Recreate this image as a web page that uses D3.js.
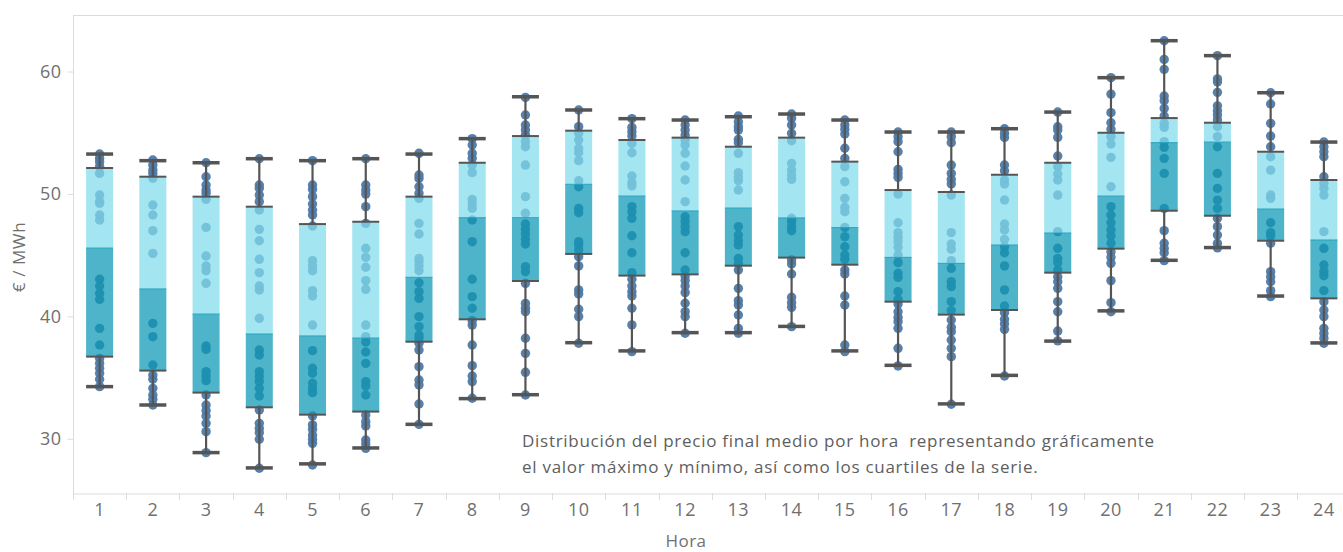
<!DOCTYPE html>
<meta charset="utf-8">
<style>
body { margin: 0; background: #fff; }
svg text { font-family: "Open Sans", "Lato", sans-serif; }
</style>
<script src="https://d3js.org/d3.v7.min.js"></script>
<div id="chart"></div>
<script>
// data
var horas = d3.range(1, 25).map(String);
var minimo = [34.26,32.76,28.87,27.62,27.95,29.25,31.18,33.28,33.60,37.85,37.18,38.67,38.67,39.18,37.18,36.00,32.85,35.18,37.98,40.45,44.58,45.62,41.66,37.83];
var maximo = [53.26,52.72,52.55,52.88,52.72,52.88,53.26,54.52,57.94,56.86,56.15,56.04,56.31,56.53,56.04,55.06,55.06,55.33,56.69,59.50,62.52,61.30,58.27,54.24];
var q1 = [36.71,35.57,33.77,32.57,31.97,32.22,37.93,39.76,42.89,45.10,43.33,43.43,44.14,44.80,44.22,41.20,40.14,40.52,43.57,45.53,48.63,48.22,46.18,41.47];
var mediana = [45.58,42.24,40.19,38.56,38.40,38.23,43.19,48.06,48.06,50.79,49.83,48.61,48.85,48.04,47.25,44.82,44.33,45.83,46.81,49.83,54.19,54.24,48.77,46.24];
var q3 = [52.12,51.41,49.78,48.96,47.54,47.73,49.78,52.55,54.73,55.17,54.41,54.60,53.86,54.60,52.64,50.32,50.16,51.57,52.55,55.00,56.20,55.82,53.45,51.14];

var puntos = [
  [53.26,52.91,52.64,52.23,51.68,49.91,49.37,49.23,48.28,47.87,43.03,42.48,41.88,41.39,39.02,37.66,36.57,36.16,35.76,35.35,34.86,34.26],
  [52.77,52.36,51.96,51.68,51.28,49.10,48.28,47.00,45.15,39.43,38.34,36.03,35.21,34.86,34.12,33.58,33.22,32.76],
  [52.55,51.41,50.73,50.32,50.05,49.56,47.27,44.93,44.11,43.73,42.70,37.58,37.30,35.48,35.13,34.75,33.58,32.76,32.30,31.86,31.26,30.58,28.87],
  [52.88,50.73,50.46,49.91,49.37,48.69,47.11,46.18,44.66,43.57,42.48,42.15,39.84,37.25,36.84,35.48,35.08,34.67,34.12,33.50,32.35,31.26,30.86,30.50,29.96,27.59],
  [52.72,50.73,50.38,49.78,49.18,48.69,48.28,47.38,44.55,44.11,43.73,42.10,41.66,39.29,37.20,35.76,35.35,34.53,34.12,33.77,31.86,31.13,30.77,30.31,29.96,29.63,27.86],
  [52.88,50.73,50.32,49.99,48.96,47.60,45.56,44.82,44.01,42.92,42.21,39.29,38.34,37.91,37.09,36.16,34.67,34.31,33.58,31.94,31.40,31.05,29.90,29.57,29.22],
  [53.32,51.55,51.27,50.59,50.05,49.64,47.60,46.73,44.74,44.47,44.11,43.73,42.75,42.02,41.47,39.98,39.16,38.48,38.21,37.80,37.25,35.89,34.80,34.40,32.84,31.18],
  [54.52,54.00,53.32,52.91,52.36,51.74,49.56,49.18,48.82,47.87,46.10,43.03,41.61,40.66,39.65,39.29,37.66,35.97,35.13,34.67,33.31],
  [57.89,56.45,55.63,55.22,54.81,54.27,53.86,52.36,49.78,48.42,47.54,47.11,46.73,46.29,45.91,44.06,43.65,42.70,41.06,40.66,40.38,38.21,36.98,35.43,33.58],
  [56.86,55.50,54.95,54.41,53.73,53.37,52.72,51.08,50.59,48.82,48.47,46.10,45.83,45.42,44.88,44.12,42.16,41.83,40.58,39.98,37.80],
  [56.15,55.44,55.09,54.73,54.13,53.37,51.47,50.92,50.65,48.96,48.55,48.01,46.59,45.20,43.57,43.03,42.48,42.02,41.67,40.66,39.30,37.12],
  [56.04,55.63,55.22,54.81,54.41,54.00,53.32,52.28,51.14,49.37,48.14,47.74,47.33,46.92,45.20,43.79,43.30,42.92,42.48,41.94,41.07,40.39,39.98,38.62],
  [56.37,55.90,55.50,55.22,54.46,54.19,53.32,51.74,51.36,51.08,50.32,47.33,46.65,46.18,45.83,44.74,44.33,43.79,42.29,41.28,40.93,40.11,39.02,38.62],
  [56.53,56.18,55.63,54.95,54.35,52.50,51.96,51.55,51.19,48.01,47.74,47.33,47.00,44.61,44.28,43.46,41.56,41.12,40.74,39.16],
  [56.04,55.63,55.28,54.90,53.73,52.91,52.23,51.00,49.64,48.91,48.55,47.27,46.51,45.69,45.01,44.66,43.79,43.46,41.66,40.93,37.66,37.12],
  [55.06,54.68,54.27,53.45,52.01,51.68,51.36,49.99,47.65,46.84,46.46,46.10,45.64,45.01,44.39,43.52,43.19,42.02,41.39,41.01,40.38,39.92,39.57,39.02,37.39,35.95],
  [55.06,54.68,54.19,52.36,51.68,51.19,50.81,49.91,46.84,45.91,45.48,44.55,43.92,42.84,42.43,41.20,40.47,39.70,39.11,38.75,38.07,37.39,36.71,32.82],
  [55.33,54.95,54.62,52.36,51.90,51.14,50.81,49.51,47.55,47.06,46.29,45.69,45.20,44.12,42.16,40.85,40.30,39.76,39.38,38.94,35.13],
  [56.69,55.49,55.22,54.62,53.10,52.23,51.63,51.14,49.91,46.92,45.56,44.74,44.39,43.79,43.24,42.83,42.29,41.20,40.38,38.80,38.00],
  [59.50,58.16,56.64,55.82,55.28,54.68,54.08,52.99,50.59,48.96,48.28,47.65,47.06,46.57,45.97,45.28,44.82,44.33,42.92,41.12,40.38],
  [62.52,60.99,60.18,58.00,57.62,56.99,56.37,55.77,55.44,54.27,53.81,52.91,51.68,48.82,47.00,45.97,45.56,45.20,44.55],
  [61.30,59.40,59.15,58.30,57.20,56.80,56.45,56.05,55.49,54.68,53.86,51.68,50.46,49.50,48.82,48.01,47.33,46.65,45.97,45.60],
  [58.27,57.35,55.77,54.73,53.86,53.04,51.95,49.91,49.64,47.65,46.84,46.56,45.97,43.65,43.24,42.83,42.10,41.61],
  [54.24,53.86,53.45,53.04,51.41,50.87,50.46,49.91,46.92,45.56,44.20,43.65,43.32,42.10,41.20,40.52,39.98,39.02,38.61,38.21,37.80]
];
var yTicks = [30, 40, 50, 60];
var nota = ["Distribución del precio final medio por hora\u00a0 representando gráficamente",
            "el valor máximo y mínimo, así como los cuartiles de la serie."];

var W = 1343, H = 552;
var mLeft = 73, mTop = 15, mBottom = 493, mRight = 1350.5;

var svg = d3.select("#chart").append("svg")
  .attr("width", W).attr("height", H);

var x = d3.scaleBand().domain(horas).range([mLeft, mRight]).padding(0);
var y = d3.scaleLinear().domain([25.57, 64.62]).range([mBottom, mTop]);
var bw = 27;

// frame
svg.append("line").attr("x1", mLeft).attr("x2", W).attr("y1", mTop + 0.5).attr("y2", mTop + 0.5)
  .attr("stroke", "#dcdcdc");
svg.append("line").attr("x1", mLeft + 0.5).attr("x2", mLeft + 0.5).attr("y1", mTop).attr("y2", mBottom)
  .attr("stroke", "#dcdcdc");

// y axis
var gy = svg.append("g").attr("transform", "translate(" + (mLeft + 0.5) + ",0)")
  .call(d3.axisLeft(y).tickValues(yTicks).tickSize(6).tickPadding(6));
gy.select(".domain").remove();
gy.selectAll(".tick line").attr("stroke", "#dcdcdc");
gy.selectAll(".tick text").attr("fill", "#707070").style("font-size", "18px")
  .style("letter-spacing", "0.5px");

// x axis
var gx = svg.append("g").attr("transform", "translate(0," + (mBottom + 0.5) + ")")
  .call(d3.axisBottom(x).tickSize(0).tickPadding(10));
gx.select(".domain").attr("stroke", "#dcdcdc");
gx.selectAll(".tick text").attr("fill", "#707070").style("font-size", "18px")
  .style("letter-spacing", "0.5px");
svg.append("g").selectAll("line").data(horas).join("line")
  .attr("x1", function(d) { return Math.round(x(d)) + 0.5; })
  .attr("x2", function(d) { return Math.round(x(d)) + 0.5; })
  .attr("y1", mBottom).attr("y2", mBottom + 7)
  .attr("stroke", "#dcdcdc");

// axis titles
svg.append("text").attr("x", 686).attr("y", 547).attr("text-anchor", "middle")
  .attr("fill", "#707070").style("font-size", "17px").style("letter-spacing", "0.4px").text("Hora");
svg.append("text").attr("transform", "translate(25,257) rotate(-90)").attr("text-anchor", "middle")
  .attr("fill", "#707070").style("font-size", "17px").style("letter-spacing", "0.6px").text("€ / MWh");

// points
var flat = [];
puntos.forEach(function(arr, i) {
  arr.forEach(function(v) { flat.push({h: horas[i], v: v}); });
});
svg.append("g").selectAll("circle").data(flat).join("circle")
  .attr("cx", function(d) { return x(d.h) + x.bandwidth() / 2; })
  .attr("cy", function(d) { return y(d.v); })
  .attr("r", 4.7)
  .attr("fill", "#4e79a7")
  .attr("fill-opacity", 0.95);

var cajas = horas.map(function(h, i) {
  return {h: h, lo: minimo[i], q1: q1[i], med: mediana[i], q3: q3[i], hi: maximo[i]};
});
var g = svg.append("g");
var cx = function(d) { return x(d.h) + x.bandwidth() / 2; };

// upper and lower halves of the box
g.selectAll(".alta").data(cajas).join("rect")
  .attr("x", function(d) { return cx(d) - bw / 2; })
  .attr("width", bw)
  .attr("y", function(d) { return y(d.q3); })
  .attr("height", function(d) { return y(d.med) - y(d.q3); })
  .attr("fill", "rgb(129,219,236)").attr("fill-opacity", 0.73);
g.selectAll(".baja").data(cajas).join("rect")
  .attr("x", function(d) { return cx(d) - bw / 2; })
  .attr("width", bw)
  .attr("y", function(d) { return y(d.med); })
  .attr("height", function(d) { return y(d.q1) - y(d.med); })
  .attr("fill", "rgb(11,152,181)").attr("fill-opacity", 0.73);
g.selectAll(".med").data(cajas).join("line")
  .attr("x1", function(d) { return cx(d) - bw / 2; })
  .attr("x2", function(d) { return cx(d) + bw / 2; })
  .attr("y1", function(d) { return y(d.med); })
  .attr("y2", function(d) { return y(d.med); })
  .attr("stroke", "rgb(40,165,190)").attr("stroke-width", 1);

// whiskers
g.selectAll(".wsup").data(cajas).join("line")
  .attr("x1", cx).attr("x2", cx)
  .attr("y1", function(d) { return y(d.hi); })
  .attr("y2", function(d) { return y(d.q3); })
  .attr("stroke", "#555").attr("stroke-width", 2.2);
g.selectAll(".winf").data(cajas).join("line")
  .attr("x1", cx).attr("x2", cx)
  .attr("y1", function(d) { return y(d.q1); })
  .attr("y2", function(d) { return y(d.lo); })
  .attr("stroke", "#555").attr("stroke-width", 2.2);

// box edges and caps
["q1", "q3"].forEach(function(k) {
  g.selectAll(".b" + k).data(cajas).join("line")
    .attr("x1", function(d) { return cx(d) - bw / 2; })
    .attr("x2", function(d) { return cx(d) + bw / 2; })
    .attr("y1", function(d) { return y(d[k]); })
    .attr("y2", function(d) { return y(d[k]); })
    .attr("stroke", "#555").attr("stroke-width", 2);
});
["lo", "hi"].forEach(function(k) {
  g.selectAll(".c" + k).data(cajas).join("line")
    .attr("x1", function(d) { return cx(d) - bw / 2; })
    .attr("x2", function(d) { return cx(d) + bw / 2; })
    .attr("y1", function(d) { return y(d[k]); })
    .attr("y2", function(d) { return y(d[k]); })
    .attr("stroke", "#555").attr("stroke-width", 3.5);
});

// note
svg.append("g").selectAll("text").data(nota).join("text")
  .attr("x", 522)
  .attr("y", function(d, i) { return 447 + i * 26; })
  .attr("fill", "#5e5e5e")
  .style("font-size", "17px")
  .style("letter-spacing", "0.72px")
  .text(function(d) { return d; });
</script>
